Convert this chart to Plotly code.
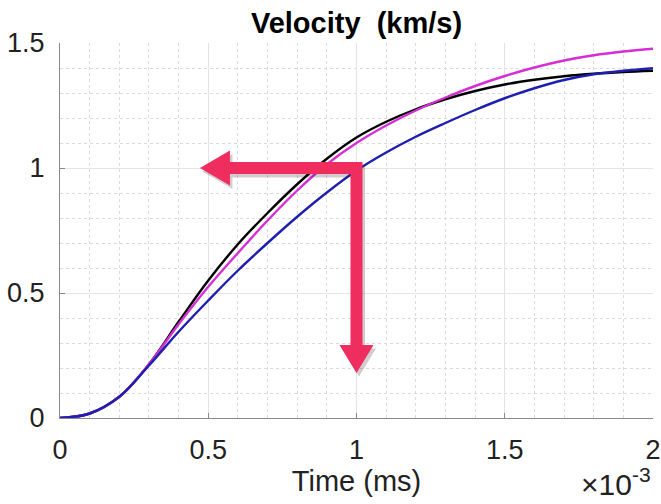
import plotly.graph_objects as go

# ---- data (time axis in units of 1e-3, velocity in km/s) ----
time = [0.0, 0.1, 0.2, 0.3, 0.4, 0.5, 0.6, 0.7, 0.8, 0.9, 1.0,
        1.1, 1.2, 1.3, 1.4, 1.5, 1.6, 1.7, 1.8, 1.9, 2.0]
v_black = [0.0, 0.018, 0.085, 0.215, 0.385, 0.55, 0.695, 0.82, 0.935, 1.037, 1.122,
           1.185, 1.235, 1.275, 1.308, 1.334, 1.353, 1.367, 1.377, 1.384, 1.389]
v_magenta = [0.0, 0.018, 0.085, 0.215, 0.375, 0.525, 0.66, 0.79, 0.91, 1.015, 1.1,
             1.17, 1.23, 1.282, 1.328, 1.368, 1.402, 1.43, 1.451, 1.466, 1.477]
v_blue = [0.0, 0.018, 0.085, 0.21, 0.345, 0.47, 0.59, 0.70, 0.805, 0.902, 0.99,
          1.062, 1.125, 1.18, 1.232, 1.279, 1.319, 1.352, 1.375, 1.389, 1.399]

x_tickvals = [0, 0.5, 1, 1.5, 2]
x_ticktext = ["0", "0.5", "1", "1.5", "2"]
y_tickvals = [0, 0.5, 1, 1.5]
y_ticktext = ["0", "0.5", "1", "1.5"]

# arrow annotation (corner point on the chart, in data units)
arrow_corner = (1.0, 1.0)
arrow_left_tip = 0.472
arrow_down_tip = 0.18

FONT = "Liberation Sans, Arial, Helvetica, sans-serif"
W, H = 661, 504
ML, MR, MT, MB = 60, 8, 43, 86
XR, YR = (0, 2), (0, 1.5)
PW, PH = W - ML - MR, H - MT - MB
sx = PW / (XR[1] - XR[0])   # px per x unit
sy = PH / (YR[1] - YR[0])   # px per y unit

fig = go.Figure()
for y, c in [(v_black, "#000000"), (v_magenta, "#d62ed6"), (v_blue, "#1e1eb0")]:
    fig.add_trace(go.Scatter(x=time, y=y, mode="lines",
                             line=dict(color=c, width=2.4, shape="spline", smoothing=1.0),
                             showlegend=False, hoverinfo="skip"))


def arrow_path(dx_px=0.0, dy_px=0.0):
    cx, cy = arrow_corner
    hw = 6 / sx
    hh = 6 / sy
    head_len_x = 30 / sx
    head_half_y = 17.5 / sy
    head_len_y = 28 / sy
    head_half_x = 17 / sx
    ox, oy = dx_px / sx, -dy_px / sy
    pts = [
        (arrow_left_tip, cy),
        (arrow_left_tip + head_len_x, cy + head_half_y),
        (arrow_left_tip + head_len_x, cy + hh),
        (cx + hw, cy + hh),
        (cx + hw, arrow_down_tip + head_len_y),
        (cx + head_half_x, arrow_down_tip + head_len_y),
        (cx, arrow_down_tip),
        (cx - head_half_x, arrow_down_tip + head_len_y),
        (cx - hw, arrow_down_tip + head_len_y),
        (cx - hw, cy - hh),
        (arrow_left_tip + head_len_x, cy - hh),
        (arrow_left_tip + head_len_x, cy - head_half_y),
    ]
    return "M " + " L ".join(f"{x + ox:.5f},{y + oy:.5f}" for x, y in pts) + " Z"


fig.add_shape(type="path", path=arrow_path(2.5, 3.5), xref="x", yref="y",
              fillcolor="rgba(60,20,30,0.22)", line=dict(width=0), layer="above")
fig.add_shape(type="path", path=arrow_path(), xref="x", yref="y",
              fillcolor="#ef2d5e", line=dict(width=0), layer="above")

axis_common = dict(
    showline=True, linecolor="#8a8a8a", linewidth=1,
    ticks="inside", ticklen=5, tickcolor="#8a8a8a",
    showgrid=True, gridcolor="#e4e4e4", gridwidth=1,
    zeroline=False, mirror=False, automargin=False,
    tickfont=dict(family=FONT, size=27, color="#222222"),
)

fig.update_xaxes(range=list(XR), tickvals=x_tickvals, ticktext=x_ticktext,
                 minor=dict(dtick=0.1, showgrid=True, griddash="dot",
                            gridcolor="#dadada", gridwidth=1, ticks=""),
                 title=dict(text="Time (ms)", font=dict(family=FONT, size=29, color="#222222"),
                            standoff=6),
                 ticklabelstandoff=8,
                 **axis_common)
fig.update_yaxes(range=list(YR), tickvals=y_tickvals, ticktext=y_ticktext,
                 minor=dict(dtick=0.1, showgrid=True, griddash="dot",
                            gridcolor="#dadada", gridwidth=1, ticks=""),
                 ticklabelstandoff=9,
                 **axis_common)

fig.add_annotation(text="×10<sup>-3</sup>", xref="paper", yref="paper",
                   x=1.0, y=-(503 - (H - MB)) / PH,
                   xanchor="right", yanchor="bottom",
                   showarrow=False, font=dict(family=FONT, size=30, color="#222222"))

fig.update_layout(
    width=W, height=H,
    margin=dict(l=ML, r=MR, t=MT, b=MB, autoexpand=False),
    paper_bgcolor="white", plot_bgcolor="white",
    title=dict(text="<b>Velocity&nbsp; (km/s)</b>", x=0.5, xref="paper",
               y=1 - 23 / H, yref="container", yanchor="middle",
               font=dict(family=FONT, size=29, color="#000000")),
)

fig.write_html("out.html")
